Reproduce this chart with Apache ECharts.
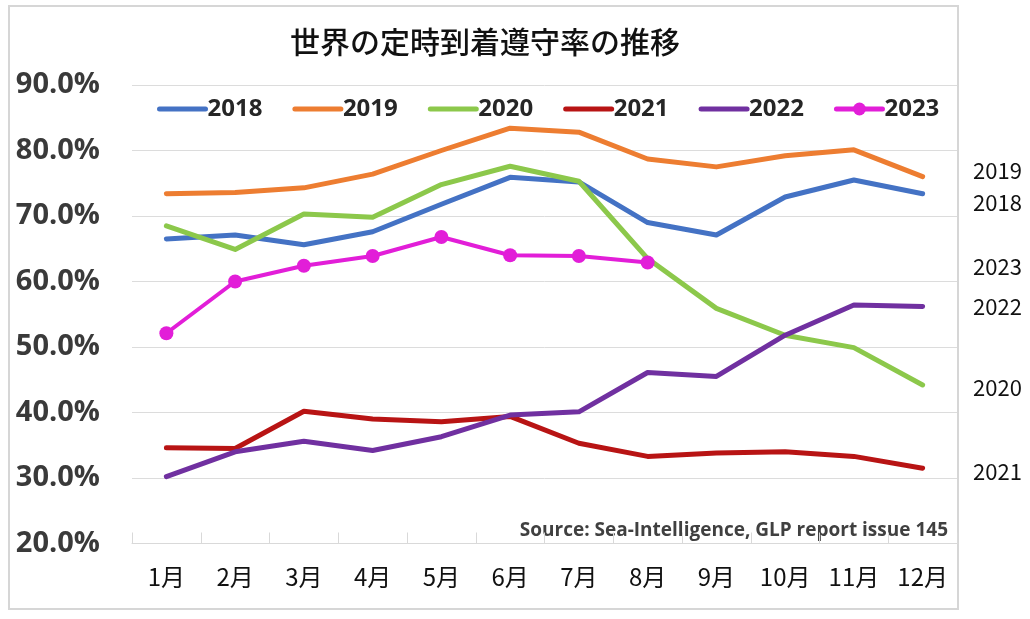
<!DOCTYPE html>
<html>
<head>
<meta charset="utf-8">
<script src="https://cdn.jsdelivr.net/npm/echarts@6/dist/echarts.min.js"></script>
<style>
html,body{margin:0;padding:0;background:#fff;}
#chart{width:1030px;height:619px;}
</style>
</head>
<body>
<div id="chart"></div>
<script>
const months = ['1月','2月','3月','4月','5月','6月','7月','8月','9月','10月','11月','12月'];
const seriesNames = ['2018','2019','2020','2021','2022','2023'];
const s2018 = [66.5, 67.1, 65.6, 67.6, 71.8, 75.9, 75.2, 69.0, 67.1, 72.9, 75.5, 73.4];
const s2019 = [73.4, 73.6, 74.3, 76.4, 80.0, 83.4, 82.8, 78.7, 77.5, 79.2, 80.1, 76.0];
const s2020 = [68.5, 64.9, 70.3, 69.8, 74.8, 77.6, 75.3, 63.5, 55.9, 51.8, 49.9, 44.2];
const s2021 = [34.6, 34.5, 40.2, 39.0, 38.6, 39.4, 35.3, 33.3, 33.8, 34.0, 33.3, 31.5];
const s2022 = [30.2, 34.0, 35.6, 34.2, 36.3, 39.6, 40.1, 46.1, 45.5, 51.8, 56.4, 56.2];
const s2023 = [52.1, 60.0, 62.4, 63.9, 66.8, 64.0, 63.9, 62.9];
const sideLabels = ['2019','2018','2023','2022','2020','2021'];
const sideLabelY = [171, 203, 267, 307, 388, 472];
const titleText = '世界の定時到着遵守率の推移';
const sourceText = 'Source: Sea-Intelligence, GLP report issue 145';

const colors = ['#4472C4','#ED7D31','#8CC84B','#B81414','#7030A0','#E21ED8'];
const allData = [s2018, s2019, s2020, s2021, s2022, s2023];

const chart = echarts.init(document.getElementById('chart'), null, {renderer:'canvas'});

const series = seriesNames.map((n, i) => {
  const is23 = n === '2023';
  return {
    name: n,
    type: 'line',
    data: allData[i],
    smooth: false,
    symbol: is23 ? 'circle' : 'none',
    symbolSize: is23 ? 14 : 0,
    showSymbol: is23,
    lineStyle: { width: is23 ? 4 : 5, color: colors[i], cap: 'round', join: 'round' },
    itemStyle: { color: colors[i] },
    z: is23 ? 5 : 3,
    animation: false
  };
});

const legendData = seriesNames.map((n, i) => {
  if (n === '2023') return { name: n, itemStyle: { color: colors[i] }, lineStyle: { width: 5, color: colors[i] } };
  return { name: n, itemStyle: { opacity: 0 }, lineStyle: { width: 5, color: colors[i] } };
});

const graphics = [
  { type: 'rect', shape: { x: 9, y: 6, width: 949, height: 603 }, style: { fill: 'none', stroke: '#d6d6d6', lineWidth: 2 }, z: -1, silent: true },
  { type: 'text', x: 948, y: 531, style: { text: sourceText, fill: '#404040', font: 'bold 19px "Open Sans"', textAlign: 'right', textVerticalAlign: 'middle' } }
];
sideLabels.forEach((t, i) => {
  graphics.push({ type: 'text', x: 973, y: sideLabelY[i], style: { text: t, fill: '#111', font: '22px "Noto Sans CJK JP"', textAlign: 'left', textVerticalAlign: 'middle' } });
});

chart.setOption({
  backgroundColor: '#fff',
  animation: false,
  color: colors,
  title: {
    text: titleText,
    left: 285,
    top: 22,
    textStyle: { fontFamily: 'Noto Sans CJK JP', fontSize: 30, fontWeight: 500, color: '#111' }
  },
  legend: {
    data: legendData,
    left: 152,
    top: 92,
    itemWidth: 46,
    itemHeight: 16,
    itemGap: 30,
    lineStyle: { width: 5 },
    textStyle: { fontFamily: 'Open Sans', fontWeight: 'bold', fontSize: 24, color: '#262626', padding: [0,0,0,-3] }
  },
  grid: { left: 132, right: 73, top: 85, bottom: 75.5 },
  xAxis: {
    type: 'category',
    data: months,
    boundaryGap: true,
    axisLine: { show: true, lineStyle: { color: '#d9d9d9', width: 1 } },
    axisTick: { show: true, inside: true, length: 11, lineStyle: { color: '#d9d9d9' } },
    axisLabel: { fontFamily: 'Noto Sans CJK JP', fontSize: 24, color: '#111', margin: 21 },
    splitLine: { show: false }
  },
  yAxis: {
    type: 'value',
    min: 20,
    max: 90,
    interval: 10,
    axisLine: { show: false },
    axisTick: { show: false },
    axisLabel: {
      formatter: v => v.toFixed(1) + '%',
      fontFamily: 'Open Sans', fontWeight: 'bold', fontSize: 29, color: '#3a3a3a', margin: 32
    },
    splitLine: { show: true, lineStyle: { color: '#dcdcdc', width: 1 } }
  },
  series: series,
  graphic: graphics
});
</script>
</body>
</html>
